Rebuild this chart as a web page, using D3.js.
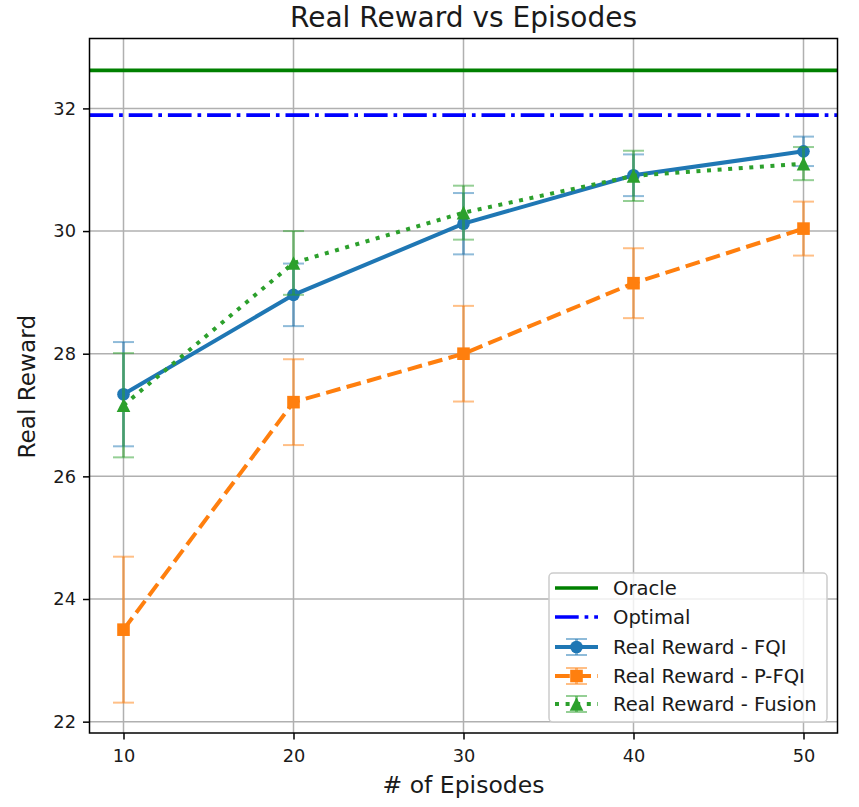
<!DOCTYPE html>
<html><head><meta charset="utf-8">
<script src="https://cdn.jsdelivr.net/npm/d3@7"></script>
<style>body{margin:0;background:#fff} text{font-family:"DejaVu Sans",sans-serif;fill:#1a1a1a}</style>
</head><body><svg id="c" width="859" height="807"></svg>
<script>
// ---- data ----
const episodes = [10, 20, 30, 40, 50];
const fqiMean = [27.34, 28.96, 30.12, 30.91, 31.30];
const fqiErr  = [0.85, 0.51, 0.50, 0.34, 0.24];
const pfqiMean = [23.50, 27.21, 28.00, 29.15, 30.04];
const pfqiErr  = [1.19, 0.70, 0.78, 0.57, 0.44];
const fusionMean = [27.16, 29.48, 30.30, 30.90, 31.10];
const fusionErr  = [0.85, 0.52, 0.44, 0.41, 0.27];
const oracleValue = 32.62;
const optimalValue = 31.89;
const xTicks = [10, 20, 30, 40, 50];
const yTicks = [22, 24, 26, 28, 30, 32];
const seriesNames = ["Real Reward - FQI", "Real Reward - P-FQI", "Real Reward - Fusion"];

// ---- layout ----
const svg = d3.select("#c");
const L = 89.5, R = 837.5, T = 38.5, B = 733;
const x = d3.scaleLinear().domain([8, 52]).range([L, R]);
const y = d3.scaleLinear().domain([21.815, 33.14]).range([B, T]);

const series = [
  {name: seriesNames[0], mean: fqiMean, err: fqiErr, color: "#1f77b4", dash: null, marker: "circle"},
  {name: seriesNames[1], mean: pfqiMean, err: pfqiErr, color: "#ff7f0e", dash: "14.8,6.4", marker: "square"},
  {name: seriesNames[2], mean: fusionMean, err: fusionErr, color: "#2ca02c", dash: "4,6.6", marker: "triangle"}
];
const LW = 4;

// grid
const grid = svg.append("g");
grid.selectAll("line.gx").data(xTicks).join("line")
  .attr("x1", d => x(d)).attr("x2", d => x(d)).attr("y1", T).attr("y2", B)
  .attr("stroke", "#b0b0b0").attr("stroke-width", 1.5);
grid.selectAll("line.gy").data(yTicks).join("line")
  .attr("y1", d => y(d)).attr("y2", d => y(d)).attr("x1", L).attr("x2", R)
  .attr("stroke", "#b0b0b0").attr("stroke-width", 1.5);

// axes
const xAxis = svg.append("g").attr("transform", `translate(0,${B})`)
  .call(d3.axisBottom(x).tickValues(xTicks).tickSize(6.5).tickPadding(6).tickFormat(d3.format("d")));
const yAxis = svg.append("g").attr("transform", `translate(${L},0)`)
  .call(d3.axisLeft(y).tickValues(yTicks).tickSize(6.5).tickPadding(7).tickFormat(d3.format("d")));
[xAxis, yAxis].forEach(a => {
  a.select(".domain").remove();
  a.selectAll(".tick line").attr("stroke", "#000").attr("stroke-width", 1.5);
  a.selectAll(".tick text").attr("font-size", 17.8).attr("font-family", "DejaVu Sans").attr("fill", "#1a1a1a");
});
xAxis.selectAll(".tick text").attr("dy", "0.9em");

// reference lines
svg.append("line").attr("x1", L).attr("x2", R).attr("y1", y(oracleValue)).attr("y2", y(oracleValue))
  .attr("stroke", "#008000").attr("stroke-width", 3.7);
svg.append("line").attr("x1", L).attr("x2", R).attr("y1", y(optimalValue)).attr("y2", y(optimalValue))
  .attr("stroke", "#0000ff").attr("stroke-width", 3.7).attr("stroke-dasharray", "23.7,5.9,3.7,5.9");

function drawMarker(g, type, cx, cy, color) {
  if (type === "circle") g.append("circle").attr("cx", cx).attr("cy", cy).attr("r", 6.3).attr("fill", color);
  else if (type === "square") g.append("rect").attr("x", cx - 6.3).attr("y", cy - 6.3).attr("width", 12.6).attr("height", 12.6).attr("fill", color);
  else g.append("path").attr("d", `M${cx},${cy - 6.8}L${cx - 6.8},${cy + 6.8}L${cx + 6.8},${cy + 6.8}Z`).attr("fill", color);
}
function drawErr(g, cx, yTop, yBot, color) {
  g.append("line").attr("x1", cx).attr("x2", cx).attr("y1", yTop).attr("y2", yBot)
    .attr("stroke", color).attr("stroke-width", 3).attr("stroke-opacity", 0.5);
  [yTop, yBot].forEach(v => g.append("line").attr("x1", cx - 10.5).attr("x2", cx + 10.5).attr("y1", v).attr("y2", v)
    .attr("stroke", color).attr("stroke-width", 2).attr("stroke-opacity", 0.5));
}

const line = d3.line().x(d => x(d[0])).y(d => y(d[1]));
series.forEach(s => {
  const g = svg.append("g");
  const pts = episodes.map((e, i) => [e, s.mean[i], s.err[i]]);
  pts.forEach(p => drawErr(g, x(p[0]), y(p[1] + p[2]), y(p[1] - p[2]), s.color));
  g.append("path").attr("d", line(pts)).attr("fill", "none").attr("stroke", s.color)
    .attr("stroke-width", LW).attr("stroke-dasharray", s.dash);
  pts.forEach(p => drawMarker(g, s.marker, x(p[0]), y(p[1]), s.color));
});

// spines
svg.append("rect").attr("x", L).attr("y", T).attr("width", R - L).attr("height", B - T)
  .attr("fill", "none").attr("stroke", "#000").attr("stroke-width", 1.5);

// labels
svg.append("text").attr("x", (L + R) / 2).attr("y", 26.5).attr("text-anchor", "middle")
  .attr("font-size", 28).text("Real Reward vs Episodes");
svg.append("text").attr("x", (L + R) / 2).attr("y", 793).attr("text-anchor", "middle")
  .attr("font-size", 23.5).text("# of Episodes");
svg.append("text").attr("transform", `translate(35,${(T + B) / 2 + 1}) rotate(-90)`).attr("text-anchor", "middle")
  .attr("font-size", 23.2).text("Real Reward");

// legend
const lg = svg.append("g");
lg.append("rect").attr("x", 549).attr("y", 573).attr("width", 278).attr("height", 149).attr("rx", 4)
  .attr("fill", "#fff").attr("fill-opacity", 0.8).attr("stroke", "#cccccc").attr("stroke-width", 1.5);
const rows = [588, 617, 647, 676, 704];
const hx1 = 555, hx2 = 598, hc = 576.5, tx = 613;
lg.append("line").attr("x1", hx1).attr("x2", hx2).attr("y1", rows[0]).attr("y2", rows[0]).attr("stroke", "#008000").attr("stroke-width", 3.7);
lg.append("line").attr("x1", hx1).attr("x2", hx2).attr("y1", rows[1]).attr("y2", rows[1]).attr("stroke", "#0000ff").attr("stroke-width", 3.7).attr("stroke-dasharray", "23.7,5.9,3.7,5.9");
series.forEach((s, i) => {
  const yy = rows[i + 2];
  drawErr(lg, hc, yy - 8, yy + 8, s.color);
  lg.append("line").attr("x1", hx1).attr("x2", hx2).attr("y1", yy).attr("y2", yy).attr("stroke", s.color)
    .attr("stroke-width", LW).attr("stroke-dasharray", s.dash);
  drawMarker(lg, s.marker, hc, yy, s.color);
});
const labels = ["Oracle", "Optimal", ...seriesNames];
labels.forEach((t, i) => lg.append("text").attr("x", tx).attr("y", rows[i]).attr("dy", "0.36em")
  .attr("font-size", 19.6).text(t));
</script></body></html>
